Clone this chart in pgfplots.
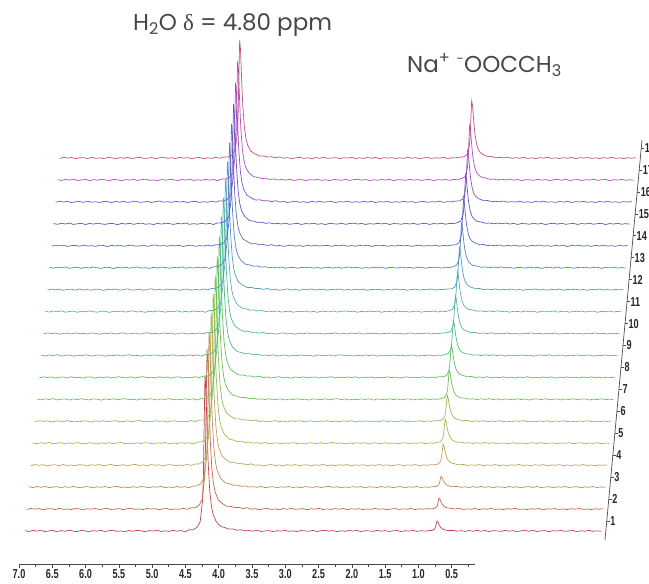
\documentclass[border=0pt]{standalone}
\usepackage{fontspec}
\setmainfont{Liberation Sans}
\newfontfamily\headfont{Poppins}
\newfontfamily\greekfont{Liberation Serif}
\newfontfamily\tickfont[FakeStretch=0.7]{Liberation Sans}
\usepackage{pgfplots}
\usepackage{pgfplotstable}
\pgfplotsset{compat=1.18}

\definecolor{c1}{HTML}{C04848}
\definecolor{c2}{HTML}{C06650}
\definecolor{c3}{HTML}{BF8A55}
\definecolor{c4}{HTML}{B8A850}
\definecolor{c5}{HTML}{A8B84E}
\definecolor{c6}{HTML}{8CBE50}
\definecolor{c7}{HTML}{70C055}
\definecolor{c8}{HTML}{5CC064}
\definecolor{c9}{HTML}{52BC80}
\definecolor{c10}{HTML}{52B89E}
\definecolor{c11}{HTML}{54B2B6}
\definecolor{c12}{HTML}{569CC4}
\definecolor{c13}{HTML}{5684C4}
\definecolor{c14}{HTML}{586CC4}
\definecolor{c15}{HTML}{6454C4}
\definecolor{c16}{HTML}{8850C4}
\definecolor{c17}{HTML}{B050BC}
\definecolor{c18}{HTML}{C2508A}

% spectrum template: ppm, water shape, acetate shape, two baseline-noise traces
\pgfplotstableread{
x w a n1 n2
7.05 0 0 0.3 -0.4
7.00 0 0 -0.5 0.6
6.95 0 0 0.6 -0.1
6.90 0 0 -0.2 0.5
6.85 0 0 0.8 -0.7
6.80 0 0 -0.6 0.2
6.75 0 0 0.1 0.4
6.70 0 0 0.5 -0.5
6.65 0 0 -0.7 0.7
6.60 0 0 0.4 -0.3
6.55 0 0 -0.3 0.1
6.50 0 0 0.7 -0.6
6.45 0 0 -0.1 0.5
6.40 0 0 -0.6 0.3
6.35 0 0 0.5 -0.8
6.30 0 0 0.2 0.4
6.25 0 0 -0.8 -0.2
6.20 0 0 0.4 0.6
6.15 0 0 -0.2 -0.5
6.10 0 0 0.6 0.1
6.05 0 0 -0.5 0.7
6.00 0 0 0.3 -0.4
5.95 0 0 0.7 -0.2
5.90 0 0 -0.4 0.5
5.85 0 0 0.1 -0.6
5.80 0 0 -0.7 0.3
5.75 0 0 0.5 0.8
5.70 0 0 -0.3 -0.3
5.65 0 0 0.6 0.2
5.60 0 0 0.2 -0.5
5.55 0 0 -0.6 0.6
5.50 0 0 0.4 -0.1
5.45 0 0 -0.1 0.4
5.40 0 0 0.8 -0.7
5.35 0 0 -0.5 0.3
5.30 0 0 0.2 0.5
5.25 0 0 -0.4 -0.6
5.20 0 0 0.6 0.2
5.15 0 0 -0.2 -0.3
5.10 0 0 0.5 0.7
5.05 0 0 -0.7 -0.2
5.00 0.0056 0 0.3 0.4
4.95 0.0099 0 -0.3 -0.3
4.90 0.022 0 0.2 0.2
4.86 0.059 0 0 0
4.83 0.2 0 0 0
4.82 0.36 0 0 0
4.81 0.692 0 0 0
4.80 1 0 0 0
4.79 0.925 0 0 0
4.78 0.754 0 0 0
4.77 0.576 0 0 0
4.76 0.434 0 0 0
4.74 0.254 0 0 0
4.72 0.161 0 0 0
4.70 0.109 0 0 0
4.66 0.059 0 0.2 -0.2
4.60 0.0297 0 -0.3 0.3
4.55 0.0192 0 0.4 -0.4
4.50 0.0134 0 -0.2 0.5
4.45 0.0099 0 0.5 -0.1
4.40 0.0076 0 -0.4 0.3
4.35 0.006 0 0.3 -0.5
4.30 0.0049 0 -0.6 0.6
4.25 0 0 0.5 -0.2
4.20 0 0 -0.2 0.4
4.15 0 0 0.7 -0.6
4.10 0 0 -0.5 0.1
4.05 0 0 0.1 0.7
4.00 0 0 0.4 -0.4
3.95 0 0 -0.6 0.2
3.90 0 0 0.3 -0.7
3.85 0 0 -0.1 0.5
3.80 0 0 0.6 -0.2
3.75 0 0 -0.4 0.6
3.70 0 0 0.2 -0.3
3.65 0 0 -0.7 0.1
3.60 0 0 0.5 0.4
3.55 0 0 0.1 -0.6
3.50 0 0 -0.3 0.3
3.45 0 0 0.6 -0.1
3.40 0 0 -0.5 0.7
3.35 0 0 0.3 -0.5
3.30 0 0 0.7 0.2
3.25 0 0 -0.2 -0.4
3.20 0 0 0.4 0.5
3.15 0 0 -0.6 -0.2
3.10 0 0 0.2 0.6
3.05 0 0 -0.3 -0.7
3.00 0 0 0.5 0.3
2.95 0 0 -0.1 -0.1
2.90 0 0 0.6 0.4
2.85 0 0 -0.7 -0.5
2.80 0 0 0.3 0.2
2.75 0 0 0.1 -0.3
2.70 0 0 -0.4 0.6
2.65 0 0 0.6 -0.2
2.60 0 0 -0.2 0.3
2.55 0 0 0.4 -0.6
2.50 0 0 -0.5 0.1
2.45 0 0 0.2 0.5
2.40 0 0 0.5 -0.4
2.35 0 0 -0.6 0.2
2.30 0 0 0.3 -0.1
2.25 0 0 -0.1 0.6
2.20 0 0 0.6 -0.5
2.15 0 0 -0.4 0.3
2.10 0 0.0056 0.2 -0.2
2.05 0 0.0099 -0.3 0.3
2.00 0 0.022 0.2 -0.1
1.96 0 0.059 0 0
1.93 0 0.2 0 0
1.92 0 0.36 0 0
1.91 0 0.692 0 0
1.90 0 1 0 0
1.89 0 0.925 0 0
1.88 0 0.754 0 0
1.87 0 0.576 0 0
1.86 0 0.434 0 0
1.84 0 0.254 0 0
1.82 0 0.161 0 0
1.80 0 0.109 0 0
1.76 0 0.059 -0.2 0.2
1.70 0 0.0297 0.3 -0.3
1.65 0 0.0192 -0.4 0.4
1.60 0 0.0134 0.2 -0.5
1.55 0 0.0099 -0.5 0.1
1.50 0 0.0076 0.4 -0.3
1.45 0 0.006 -0.3 0.5
1.40 0 0.0049 0.6 -0.6
1.35 0 0 -0.2 0.3
1.30 0 0 0.5 -0.2
1.25 0 0 -0.6 0.6
1.20 0 0 0.3 -0.4
1.15 0 0 0.1 0.2
1.10 0 0 -0.4 -0.6
1.05 0 0 0.6 0.4
1.00 0 0 -0.2 -0.1
0.95 0 0 0.4 0.7
0.90 0 0 -0.7 -0.3
0.85 0 0 0.2 0.1
0.80 0 0 0.5 -0.5
0.75 0 0 -0.3 0.4
0.70 0 0 0.7 -0.2
0.65 0 0 -0.5 0.6
0.60 0 0 0.1 -0.7
0.55 0 0 0.4 0.3
0.50 0 0 -0.6 -0.1
0.45 0 0 0.3 0.5
0.40 0 0 -0.1 -0.4
0.35 0 0 0.6 0.2
0.30 0 0 -0.4 -0.6
0.25 0 0 0.2 0.4
0.20 0 0 0.5 -0.2
0.15 0 0 -0.7 0.6
0.10 0 0 0.3 -0.3
0.05 0 0 -0.2 0.1
0.00 0 0 0.6 -0.5
-0.05 0 0 -0.4 0.3
-0.10 0 0 0.2 -0.2
-0.15 0 0 -0.3 0.4
}\spectab

% #1 spectrum number, #2 colour, #3 water peak height, #4 acetate peak height, #5 noise column
\newcommand{\spec}[5]{%
  \addplot[#2, line width=0.7pt] table[x expr=\thisrow{x}-0.0255*(#1-1),
    y expr=21.94*(#1-1)+#3*\thisrow{w}+#4*\thisrow{a}+\thisrow{#5}] {\spectab};}

\begin{document}
\begin{tikzpicture}
\useasboundingbox (0pt,0pt) rectangle (649pt,584pt);
\clip (0pt,0pt) rectangle (649pt,584pt);
\begin{axis}[at={(0pt,0pt)}, anchor=south west, scale only axis,
  width=649pt, height=584pt,
  xmin=-0.75, xmax=7.3625, x dir=reverse, ymin=-53, ymax=531,
  hide axis, clip=false]
\spec{1}{c1}{156}{10}{n1}
\spec{2}{c2}{160}{11}{n2}
\spec{3}{c3}{155}{11}{n1}
\spec{4}{c4}{152}{21}{n2}
\spec{5}{c5}{149}{24}{n1}
\spec{6}{c6}{146}{26}{n2}
\spec{7}{c7}{143}{29}{n1}
\spec{8}{c8}{141}{32}{n2}
\spec{9}{c9}{139}{35}{n1}
\spec{10}{c10}{136}{38}{n2}
\spec{11}{c11}{132}{40}{n1}
\spec{12}{c12}{128}{42}{n2}
\spec{13}{c13}{125}{44}{n1}
\spec{14}{c14}{122}{46}{n2}
\spec{15}{c15}{120}{48}{n1}
\spec{16}{c16}{119}{51}{n2}
\spec{17}{c17}{119}{54}{n1}
\spec{18}{c18}{118}{57}{n2}
\end{axis}
\begin{axis}[at={(19pt,20pt)}, anchor=south west, scale only axis,
  width=456pt, height=10pt,
  xmin=0.15, xmax=7.0, x dir=reverse, ymin=0, ymax=1,
  axis x line=bottom, axis y line=none,
  axis line style={-, draw=black!70, line width=0.7pt},
  xtick={0.5,1.0,1.5,2.0,2.5,3.0,3.5,4.0,4.5,5.0,5.5,6.0,6.5,7.0},
  minor xtick={0.25,0.75,1.25,1.75,2.25,2.75,3.25,3.75,4.25,4.75,5.25,5.75,6.25,6.75},
  tick align=outside, major tick length=4pt, minor tick length=3pt,
  tick style={black!70, line width=0.6pt},
  xticklabel style={font=\tickfont\bfseries\fontsize{13}{13}\selectfont, text=black!85, inner sep=1.5pt,
    /pgf/number format/.cd, fixed, fixed zerofill, precision=1, assume math mode=true}]
\addplot[draw=none] coordinates {(1,0.5)};
\end{axis}
% slanted spectrum-index axis
\draw[black!70, line width=0.7pt] (605pt,44pt) -- (642pt,444pt);
\foreach \i in {1,...,18} {
  \pgfmathsetmacro{\yy}{63+21.94*(\i-1)}
  \pgfmathsetmacro{\xx}{605+0.0925*(\yy-44)}
  \draw[black!70, line width=0.6pt] (\xx pt,\yy pt) -- ++(3pt,0pt)
    node[right, inner sep=0.3pt, text=black!85, font=\tickfont\bfseries\fontsize{13}{13}\selectfont] {\i};
}
\node[anchor=base west, inner sep=0pt, text=black!72, font=\headfont\fontsize{23}{23}\selectfont]
  at (133pt,553pt) {H\textsubscript{2}O {\greekfont δ} = 4.80 ppm};
\node[anchor=base west, inner sep=0pt, text=black!72, font=\headfont\fontsize{23}{23}\selectfont]
  at (407pt,511pt) {Na\textsuperscript{+} \textsuperscript{\fontsize{13}{13}\selectfont -}OOCCH\textsubscript{3}};
\end{tikzpicture}
\end{document}
